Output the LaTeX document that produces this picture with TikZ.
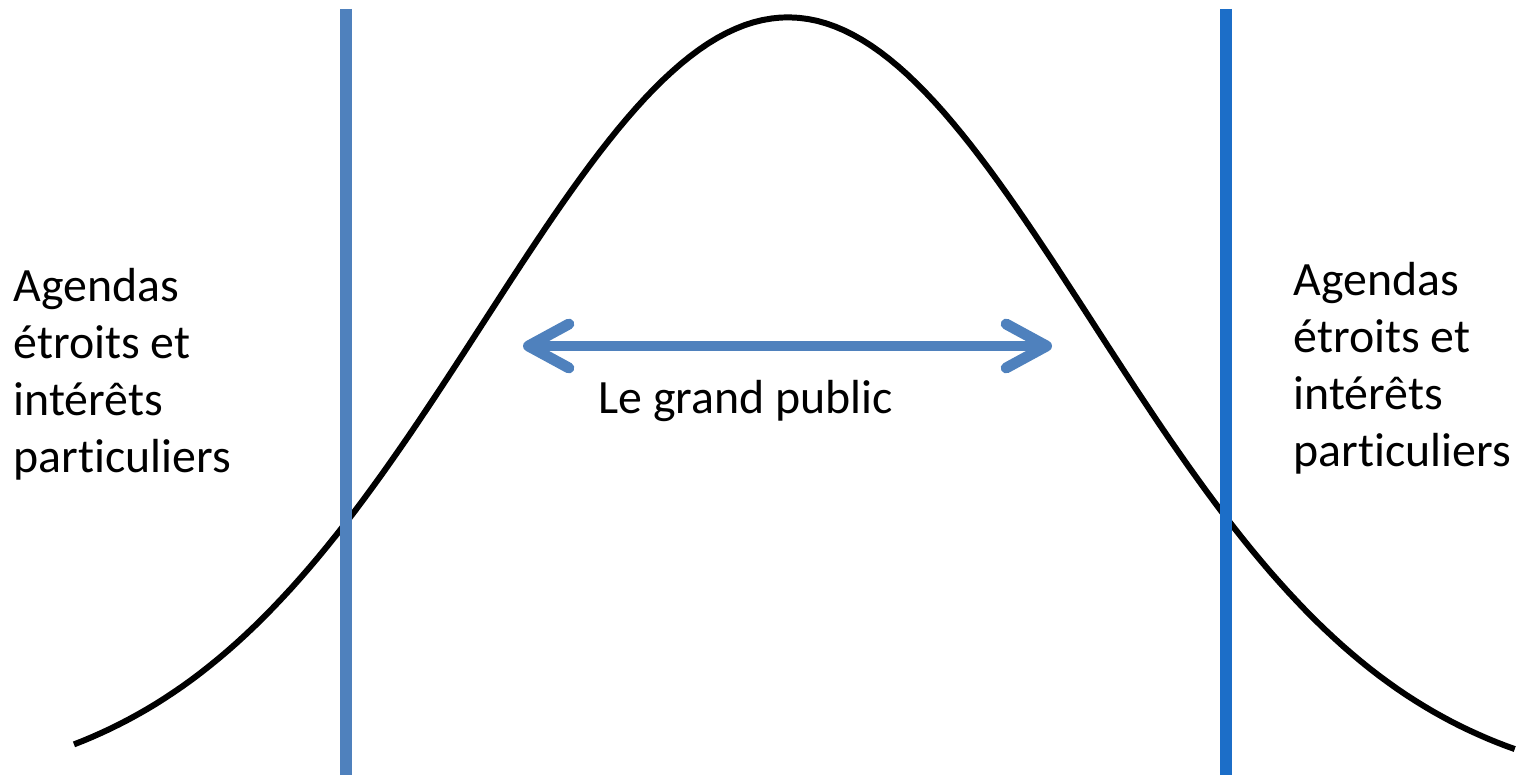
\documentclass[tikz,border=0pt]{standalone}
\usepackage{fontspec}
\setmainfont{Carlito}[Ligatures=NoCommon]
\usetikzlibrary{arrows.meta}
\definecolor{accentblue}{RGB}{79,129,189}
\definecolor{rightblue}{RGB}{28,110,200}
\begin{document}
\begin{tikzpicture}[x=0.01cm,y=-0.01cm,
  lbl/.style={inner sep=0pt,align=left,font=\fontsize{13.6}{16.2}\selectfont},
  bound/.style={line width=3.4pt},
  pubarrow/.style={draw=accentblue,line width=3.1pt,{Straight Barb[length=11.5pt,width=12.5pt,round]}-{Straight Barb[length=11.5pt,width=12.5pt,round]}}]
  \useasboundingbox (0,0) rectangle (1522,782);
  % bell curve
  \draw[line width=1.7pt,line join=round]
    plot[domain=-2.341:2.384,samples=160] ({788+305*\x},{794.5-777*exp(-\x*\x/2)});
  % boundaries
  \coordinate (ltop) at (346,9);  \coordinate (lbot) at (346,775);
  \coordinate (rtop) at (1226,9); \coordinate (rbot) at (1226,775);
  \draw[bound,accentblue] (ltop) -- (lbot);
  \draw[bound,rightblue] (rtop) -- (rbot);
  % groups (base = last line)
  \node[lbl,anchor=base west] (leftgroup) at (13,472)
    {Agendas\\étroits et\\intérêts\\particuliers};
  \node[lbl,anchor=base west] (rightgroup) at (1293,466)
    {Agendas\\étroits et\\intérêts\\particuliers};
  % public
  \coordinate (pubL) at (523,346);
  \coordinate (pubR) at (1052,346);
  \draw[pubarrow] (pubL) -- (pubR);
  \node[lbl,anchor=base west] (public) at (598,413) {Le grand public};
\end{tikzpicture}
\end{document}
